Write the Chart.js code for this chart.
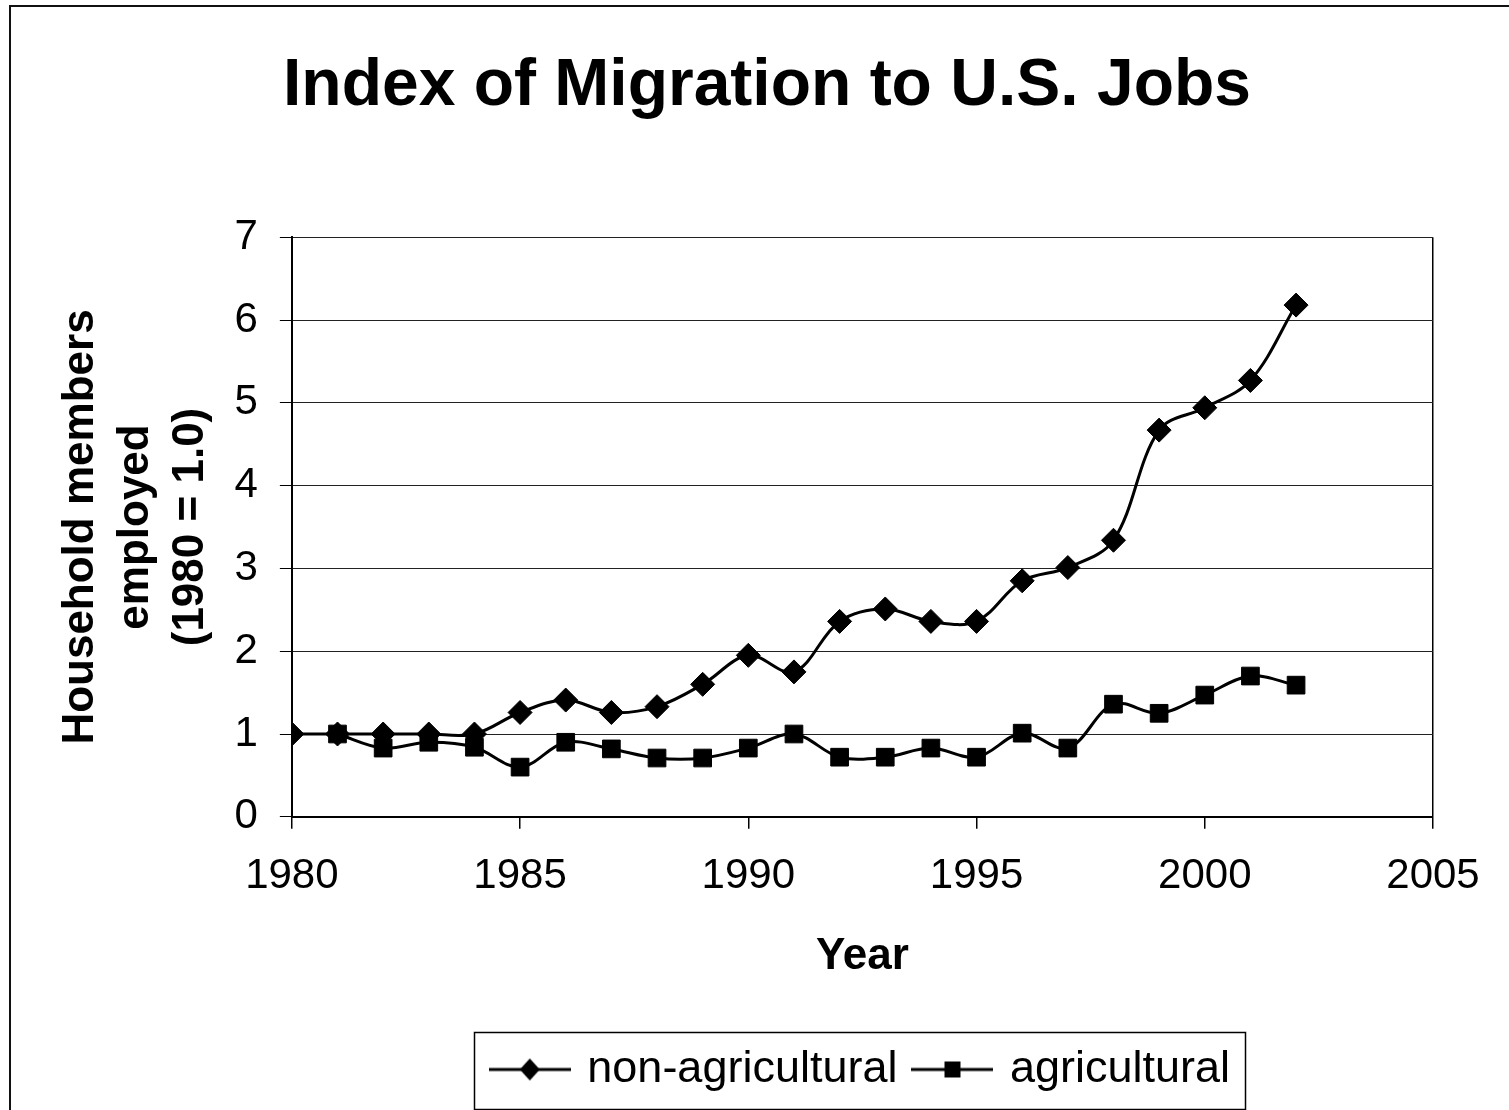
<!DOCTYPE html>
<html>
<head>
<meta charset="utf-8">
<script src="https://cdn.jsdelivr.net/npm/chart.js@4.4.0/dist/chart.umd.min.js"></script>
<style>
  html, body { margin: 0; padding: 0; background: #fff; overflow: hidden; }
  #wrap { position: absolute; left: 0; top: 0; width: 1509px; height: 1110px; }
  #frame { position: absolute; left: 9px; top: 5px; width: 1600px; height: 1200px; border: 2px solid #111; box-sizing: border-box; pointer-events: none; }
</style>
</head>
<body>
<div id="wrap"><canvas id="c"></canvas></div>
<div id="frame"></div>
<script>
// ---- data ----
const years = [1980,1981,1982,1983,1984,1985,1986,1987,1988,1989,1990,1991,1992,1993,1994,1995,1996,1997,1998,1999,2000,2001,2002];
const nonAgricultural = [1.0,1.0,1.0,1.0,1.0,1.26,1.41,1.26,1.33,1.60,1.95,1.75,2.36,2.51,2.36,2.36,2.85,3.01,3.34,4.67,4.94,5.27,6.18];
const agricultural = [null,1.0,0.83,0.90,0.84,0.60,0.90,0.82,0.71,0.71,0.83,1.0,0.72,0.72,0.83,0.72,1.01,0.83,1.36,1.25,1.47,1.70,1.59];
const seriesNames = ['non-agricultural', 'agricultural'];
const xTicks = [1980,1985,1990,1995,2000,2005];
const yTicks = [0,1,2,3,4,5,6,7];
const titleText = 'Index of Migration to U.S. Jobs';
const xTitle = 'Year';
const yTitle = ['Household members', 'employed', '(1980 = 1.0)'];

const FONT = "'Liberation Sans', Arial, Helvetica, sans-serif";

function toPoints(vals) {
  return years.map((y, i) => ({x: y, y: vals[i]}));
}

function legendIcon(kind) {
  const c = document.createElement('canvas');
  c.width = 82; c.height = 30;
  const g = c.getContext('2d');
  g.strokeStyle = '#000'; g.lineWidth = 3;
  g.beginPath(); g.moveTo(0, 15); g.lineTo(82, 15); g.stroke();
  g.fillStyle = '#000';
  g.beginPath();
  if (kind === 'diamond') {
    g.moveTo(41, 4); g.lineTo(51, 15); g.lineTo(41, 26); g.lineTo(31, 15); g.closePath();
  } else {
    g.rect(33, 7, 16, 16);
  }
  g.fill();
  return c;
}
const icons = [legendIcon('diamond'), legendIcon('square')];

const legendBorder = {
  id: 'legendBorder',
  afterDraw(chart) {
    const hb = chart.legend && chart.legend.legendHitBoxes;
    if (!hb || !hb.length) return;
    let l = Infinity, r = -Infinity, cy = 0;
    hb.forEach(b => { l = Math.min(l, b.left); r = Math.max(r, b.left + b.width); cy += b.top + b.height / 2; });
    cy /= hb.length;
    const ctx = chart.ctx;
    ctx.save();
    ctx.strokeStyle = '#000';
    ctx.lineWidth = 1.5;
    ctx.strokeRect(Math.round(l - 21) + 0.5, Math.round(cy - 38) + 0.5, Math.round(r - l + 36), 77);
    ctx.restore();
  }
};

new Chart(document.getElementById('c'), {
  type: 'line',
  data: {
    datasets: [
      {
        label: seriesNames[0],
        data: toPoints(nonAgricultural),
        borderColor: '#000', backgroundColor: '#000',
        borderWidth: 3, tension: 0.35,
        pointStyle: 'rectRot', pointRadius: 12, pointBorderWidth: 1,
        pointBackgroundColor: '#000', pointBorderColor: '#000',
        order: 1
      },
      {
        label: seriesNames[1],
        data: toPoints(agricultural),
        borderColor: '#000', backgroundColor: '#000',
        borderWidth: 3, tension: 0.35, spanGaps: false,
        pointStyle: 'rect', pointRadius: 12.5, pointBorderWidth: 1,
        pointBackgroundColor: '#000', pointBorderColor: '#000',
        order: 0
      }
    ]
  },
  options: {
    responsive: true,
    maintainAspectRatio: false,
    animation: false,
    layout: { padding: { left: 101, right: 76, top: 0, bottom: 8 } },
    plugins: {
      tooltip: { enabled: false },
      title: {
        display: true,
        text: titleText,
        color: '#000',
        font: { family: FONT, size: 66, weight: 'bold', lineHeight: 1.2 },
        padding: { top: 47, bottom: 111 }
      },
      legend: {
        display: true,
        position: 'bottom',
        fullSize: false,
        labels: {
          color: '#000',
          font: { family: FONT, size: 45 },
          usePointStyle: true,
          pointStyleWidth: 70,
          padding: 20,
          sort: (a, b) => a.datasetIndex - b.datasetIndex,
          generateLabels(chart) {
            const items = Chart.defaults.plugins.legend.labels.generateLabels(chart);
            items.forEach(it => { it.pointStyle = icons[it.datasetIndex]; });
            return items;
          }
        }
      }
    },
    scales: {
      x: {
        type: 'linear',
        min: 1980, max: 2005,
        afterBuildTicks: (s) => { s.ticks = xTicks.map(v => ({value: v})); },
        ticks: {
          color: '#000',
          font: { family: FONT, size: 42, lineHeight: 1.2 },
          padding: 22,
          maxRotation: 0,
          autoSkip: false,
          callback: (v) => String(v)
        },
        grid: {
          color: (ctx) => (ctx.tick && ctx.tick.value === 2005) ? '#000' : 'rgba(0,0,0,0)',
          tickColor: '#000',
          tickLength: 12,
          lineWidth: 1.5
        },
        border: { display: true, color: '#000', width: 2 },
        title: {
          display: true,
          text: xTitle,
          color: '#000',
          font: { family: FONT, size: 44, weight: 'bold', lineHeight: 1.2 },
          padding: { top: 7, bottom: 44 }
        }
      },
      y: {
        type: 'linear',
        min: 0, max: 7,
        afterBuildTicks: (s) => { s.ticks = yTicks.map(v => ({value: v})); },
        ticks: {
          color: '#000',
          font: { family: FONT, size: 42, lineHeight: 1.2 },
          padding: 22,
          callback: (v) => String(v)
        },
        grid: {
          color: '#222',
          tickColor: '#000',
          tickLength: 12,
          lineWidth: 1
        },
        border: { display: true, color: '#000', width: 2 },
        title: {
          display: true,
          text: yTitle,
          color: '#000',
          font: { family: FONT, size: 44, weight: 'bold', lineHeight: 1.25 },
          padding: { top: -47.5, bottom: -6 }
        }
      }
    }
  },
  plugins: [legendBorder]
});
</script>
</body>
</html>
